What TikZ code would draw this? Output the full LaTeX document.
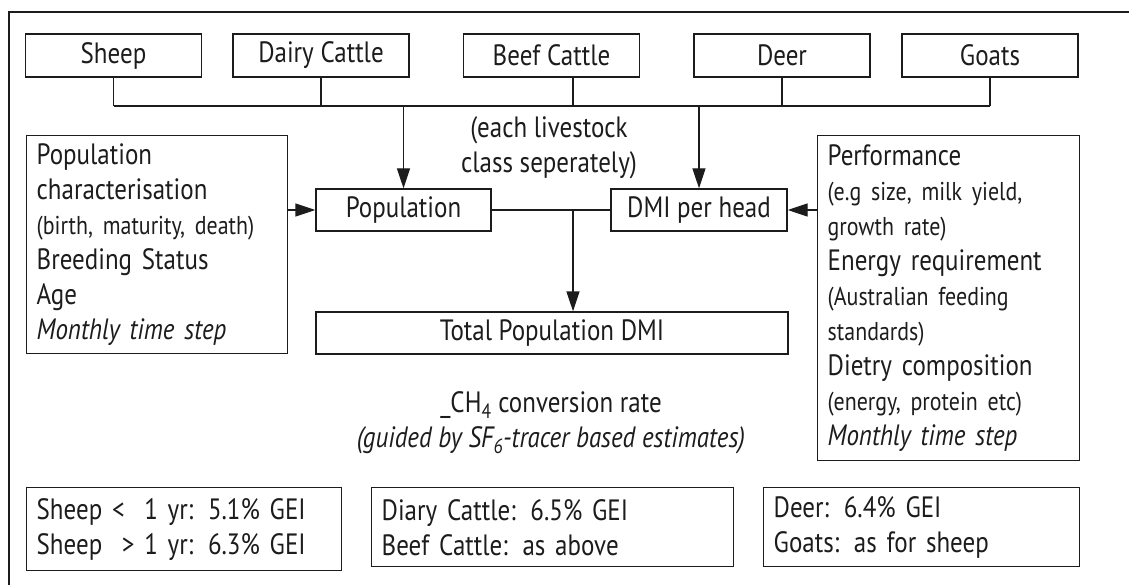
\documentclass[tikz,border=0pt]{standalone}
\usepackage{fontspec}
\setmainfont{PT Sans}[FakeStretch=0.85]
\usetikzlibrary{arrows.meta, positioning, calc}
\definecolor{inkgrey}{HTML}{1C1C1C}
\newcommand{\mainsz}{\fontsize{29.4}{35}\selectfont}
\newcommand{\notesz}{\fontsize{25.8}{35}\selectfont}
\tikzset{
  arr/.style={-{Triangle[length=20pt, width=13pt]}, line width=1.4pt, inkgrey},
  link/.style={line width=1.4pt, inkgrey},
  kindbox/.style={rectangle, draw=inkgrey, line width=1.4pt, minimum width=176pt, minimum height=43pt, inner sep=0pt, text=inkgrey, font=\mainsz},
  infobox/.style={rectangle, draw=inkgrey, line width=1.4pt, align=left, inner xsep=10pt, inner ysep=0pt, anchor=north west, text=inkgrey, font=\mainsz},
}

\begin{document}
\begin{tikzpicture}[x=1pt, y=-1pt,
    ratebox/.style={infobox},
    plain/.style={align=center, text=inkgrey, font=\mainsz, inner sep=0pt}]
  \useasboundingbox (0,0) rectangle (1129,585);

  % Outer frame (clipped at right and bottom)
  \draw[line width=1.6pt, inkgrey] (9,585) -- (9,12) -- (1129,12);

  % Livestock classes
  \foreach \n/\x/\t in {sheep/113.5/Sheep, dairy/321/Dairy Cattle, beef/551.5/Beef Cattle, deer/782/Deer, goats/990/Goats} {
    \node[kindbox] (\n) at (\x,55.5) {\t};
  }
  \foreach \n in {sheep,dairy,deer,goats} {
    \draw[link] (\n.south) -- (\n.south |- 0,106);
  }
  \draw[link] (beef.south -| 573,0) -- (573,106);
  \draw[link] (sheep.south |- 0,106) -- (goats.south |- 0,106);

  \node[plain] (eachclass) at (549,148) {(each livestock\\class seperately)};

  % Core chain
  \node[kindbox, minimum width=175pt, minimum height=42pt] (pop) at (403.5,210) {Population};
  \node[kindbox, minimum width=176pt, minimum height=42pt] (dmi) at (699,210) {DMI per head};
  \node[kindbox, minimum width=472pt, minimum height=42pt] (total) at (552,333) {Total Population DMI};

  \draw[arr] (pop.north |- 0,106) -- (pop.north);
  \draw[arr] (dmi.north |- 0,106) -- (dmi.north);
  \draw[link] (pop.east) -- (dmi.west);
  \coordinate (split) at (573,210);
  \draw[arr] (split) -- (split |- total.north);

  % Side inputs
  \node[infobox, text width=241pt, minimum height=218pt] (popchar) at (26,135) {Population\\
    characterisation\\
    {\notesz (birth, maturity, death)}\\
    Breeding Status\\
    Age\\
    \textit{Monthly time step}};
  \node[infobox, text width=242pt, minimum height=325pt] (perf) at (817,135) {Performance\\
    {\notesz (e.g size, milk yield,}\\
    {\notesz growth rate)}\\
    Energy requirement\\
    {\notesz (Australian feeding}\\
    {\notesz standards)}\\
    Dietry composition\\
    {\notesz (energy, protein etc)}\\
    \textit{Monthly time step}};

  \draw[arr] (popchar.east |- pop.west) -- (pop.west);
  \draw[arr] (perf.west |- dmi.east) -- (dmi.east);

  \node[plain] (convrate) at (551,423) {\_CH\textsubscript{4} conversion rate\\
    \textit{(guided by SF\textsubscript{6}-tracer based estimates)}};

  % Conversion rates per class
  \node[ratebox, text width=295pt, minimum height=83pt] (rsheep) at (26,487) {Sheep <\ \ 1 yr: 5.1\% GEI\\Sheep\ \ > 1 yr: 6.3\% GEI};
  \node[ratebox, text width=342pt, minimum height=79pt] (rcattle) at (371,487) {Diary Cattle: 6.5\% GEI\\Beef Cattle: as above};
  \node[ratebox, text width=296pt, minimum height=79pt] (rdeer) at (763,487) {Deer: 6.4\% GEI\\Goats: as for sheep};
\end{tikzpicture}
\end{document}
